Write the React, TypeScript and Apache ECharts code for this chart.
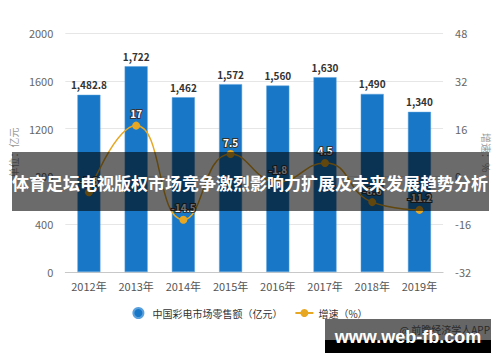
import React, { useEffect, useRef } from "react";
import * as echarts from "echarts";

const categories = ["2012年", "2013年", "2014年", "2015年", "2016年", "2017年", "2018年", "2019年"];
const salesValues = [1482.8, 1722, 1462, 1572, 1560, 1630, 1490, 1340];
const growthValues = [-5.3, 17, -14.5, 7.5, -1.8, 4.5, -8.6, -11.2];
const leftTicks = { min: 0, max: 2000, interval: 400 };
const rightTicks = { min: -32, max: 48, interval: 16 };
const barName = "中国彩电市场零售额（亿元）";
const lineName = "增速（%）";
const titleText = "体育足坛电视版权市场竞争激烈影响力扩展及未来发展趋势分析";

const FONT = "'Noto Sans CJK SC', 'Noto Sans', sans-serif";

export default function App() {
  const ref = useRef<HTMLDivElement>(null);
  useEffect(() => {
    if (!ref.current) return;
    const chart = echarts.init(ref.current, null, { renderer: "svg" });
    chart.setOption({
      animation: false,
      backgroundColor: "#ffffff",
      textStyle: { fontFamily: FONT },
      grid: { left: 60, right: 53, top: 33, bottom: 90, containLabel: false },
      legend: {
        top: 302,
        left: "center",
        itemGap: 12,
        itemWidth: 18,
        itemHeight: 10,
        textStyle: { fontSize: 10, color: "#333", fontFamily: FONT },
        data: [{ name: barName, icon: "circle" }, { name: lineName }],
      },
      xAxis: {
        type: "category",
        data: categories,
        axisLine: { lineStyle: { color: "#c8c8c8" } },
        axisTick: { show: false },
        axisLabel: { color: "#555", fontSize: 11, margin: 8, fontFamily: FONT },
      },
      yAxis: [
        {
          type: "value",
          min: leftTicks.min,
          max: leftTicks.max,
          interval: leftTicks.interval,
          name: "单位：亿元",
          nameLocation: "middle",
          nameRotate: 90,
          nameGap: 42,
          nameTextStyle: { color: "#999", fontSize: 10, fontFamily: FONT },
          axisLine: { show: false },
          axisTick: { show: false },
          axisLabel: { color: "#666", fontSize: 11, margin: 12, formatter: (v: number) => String(v) },
          splitLine: { lineStyle: { color: "#e6e6e6" } },
        },
        {
          type: "value",
          min: rightTicks.min,
          max: rightTicks.max,
          interval: rightTicks.interval,
          name: "增速：%",
          nameLocation: "middle",
          nameRotate: -90,
          nameGap: 34,
          nameTextStyle: { color: "#999", fontSize: 10, fontFamily: FONT },
          axisLine: { show: false },
          axisTick: { show: false },
          axisLabel: { color: "#666", fontSize: 11, margin: 12, formatter: (v: number) => String(v) },
          splitLine: { show: false },
        },
      ],
      series: [
        {
          name: barName,
          type: "bar",
          data: salesValues,
          barWidth: 23,
          itemStyle: { color: "#1877c6", borderColor: "#5aa0dc", borderWidth: 0.5 },
          label: {
            show: true,
            position: "top",
            distance: 5,
            color: "#333",
            fontSize: 10,
            fontWeight: "bold",
            fontFamily: FONT,
            formatter: (p: any) => Number(p.value).toLocaleString("en-US"),
          },
        },
        {
          name: lineName,
          type: "line",
          yAxisIndex: 1,
          data: growthValues,
          smooth: true,
          symbol: "circle",
          symbolSize: 8,
          lineStyle: { color: "#e7a722", width: 1.5 },
          itemStyle: { color: "#e7a722" },
          label: {
            show: true,
            position: "top",
            distance: 3,
            color: "#fff",
            fontSize: 10,
            fontWeight: "bold",
            textBorderColor: "#333",
            textBorderWidth: 2,
            fontFamily: FONT,
          },
        },
      ],
      graphic: [
        {
          type: "rect",
          shape: { x: 12, y: 152, width: 477, height: 59 },
          style: { fill: "rgba(0,0,0,0.58)" },
          z: 100,
        },
        {
          type: "text",
          x: 250,
          y: 182,
          style: {
            text: titleText,
            fill: "#fff",
            font: `bold 17px ${FONT}`,
            align: "center",
            verticalAlign: "middle",
          },
          z: 101,
        },
        {
          type: "rect",
          shape: { x: 325, y: 319, width: 166, height: 21 },
          style: { fill: "#666" },
          z: 100,
        },
        {
          type: "rect",
          shape: { x: 325, y: 340, width: 166, height: 13 },
          style: { fill: "#000" },
          z: 100,
        },
        {
          type: "text",
          x: 490,
          y: 329,
          style: {
            text: "@ 前瞻经济学人APP",
            fill: "#2a2a2a",
            font: `10px ${FONT}`,
            align: "right",
            verticalAlign: "middle",
          },
          z: 101,
        },
        {
          type: "text",
          x: 408,
          y: 337,
          style: {
            text: "www.web-fb.com",
            fill: "#fff",
            font: "bold 18px 'Liberation Sans', Arial, sans-serif",
            align: "center",
            verticalAlign: "middle",
          },
          z: 102,
        },
      ],
    });
    return () => chart.dispose();
  }, []);
  return (
    <div
      ref={ref}
      style={{ position: "fixed", left: 0, top: 0, width: 500, height: 362 }}
    />
  );
}
